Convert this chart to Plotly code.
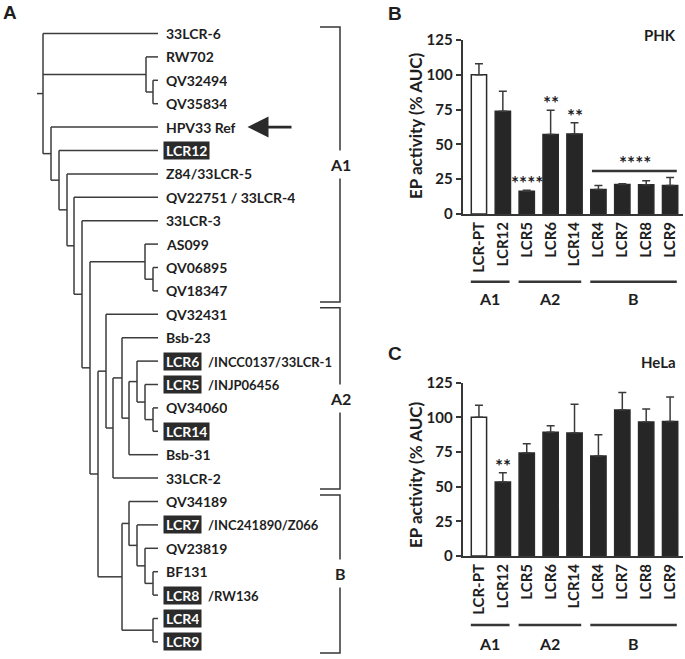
import plotly.graph_objects as go

# ------------------------------------------------------------------
# Panel A data: cladogram (internal node = [depth, child, child, ...])
# ------------------------------------------------------------------
TREE = [0.00,
    "33LCR-6",
    [1.03, "RW702", [1.10, "QV32494", "QV35834"]],
    [0.08, "HPV33 Ref",
        [0.16, "LCR12",
            [0.24, "Z84/33LCR-5",
                [0.31, "QV22751 / 33LCR-4",
                    [0.39, "33LCR-3",
                        [0.47,
                            [1.02, "AS099", [1.10, "QV06895", "QV18347"]],
                            [0.55,
                                [0.63, "QV32431",
                                    [0.70,
                                        [0.79, "Bsb-23",
                                            [0.86,
                                                [0.94, "LCR6", [1.02, "LCR5", [1.10, "QV34060", "LCR14"]]],
                                                "Bsb-31"]],
                                        "33LCR-2"]],
                                [0.79,
                                    [0.86, "QV34189",
                                        [0.94, "LCR7", [1.02, "QV23819", [1.10, "BF131", "LCR8"]]]],
                                    [1.10, "LCR4", "LCR9"]]]]]]]]]]
TIP_DEPTH = 1.15
HIGHLIGHTED = ["LCR12", "LCR6", "LCR5", "LCR14", "LCR7", "LCR8", "LCR4", "LCR9"]
SUFFIXES = {"LCR6": "/INCC0137/33LCR-1", "LCR5": "/INJP06456",
            "LCR7": "/INC241890/Z066", "LCR8": "/RW136"}
REFERENCE_LEAF = "HPV33 Ref"
CLADES = [("A1", "33LCR-6", "QV18347"),
          ("A2", "QV32431", "33LCR-2"),
          ("B", "QV34189", "LCR9")]

# ------------------------------------------------------------------
# Panels B / C data
# ------------------------------------------------------------------
CONSTRUCTS = ["LCR-PT", "LCR12", "LCR5", "LCR6", "LCR14", "LCR4", "LCR7", "LCR8", "LCR9"]
CONTROL = "LCR-PT"
GROUPS = [("A1", ["LCR-PT", "LCR12"]),
          ("A2", ["LCR5", "LCR6", "LCR14"]),
          ("B", ["LCR4", "LCR7", "LCR8", "LCR9"])]
PHK_MEAN = [100, 73.8, 16.4, 57.1, 57.4, 17.6, 21.2, 21.0, 20.5]
PHK_ERR = [7.9, 14.3, 0.6, 17.5, 8.1, 2.9, 0.5, 2.8, 5.7]
HELA_MEAN = [100, 53.4, 74.3, 89.2, 88.7, 72.1, 105.3, 96.6, 97.1]
HELA_ERR = [8.7, 6.6, 6.7, 4.8, 20.7, 15.4, 12.7, 9.4, 17.6]
PHK_SIG = {"LCR5": "****", "LCR6": "**", "LCR14": "**"}
PHK_GROUP_SIG = {"B": "****"}
HELA_SIG = {"LCR12": "**"}
Y_TICKS = [0, 25, 50, 75, 100, 125]

W, H = 685, 659
FONT = "Lato, 'Open Sans', Arial, sans-serif"
INK = "#1e1e1e"
LINE = "#363636"
BAR = "#262626"

fig = go.Figure()
ann = []
shapes = []

# ---------------------------- tree --------------------------------
leaf_order = []
def collect(node):
    if isinstance(node, str):
        leaf_order.append(node)
    else:
        for ch in node[1:]:
            collect(ch)
collect(TREE)
leaf_y = {name: i for i, name in enumerate(leaf_order)}

seg_x, seg_y = [], []
def draw(node):
    if isinstance(node, str):
        return TIP_DEPTH, leaf_y[node]
    d = node[0]
    pos = [draw(ch) for ch in node[1:]]
    ys = [p[1] for p in pos]
    for cx, cy in pos:
        seg_x.extend([d, cx, None]); seg_y.extend([cy, cy, None])
    seg_x.extend([d, d, None]); seg_y.extend([min(ys), max(ys), None])
    return d, (ys[0] + ys[-1]) / 2
rx, ry = draw(TREE)
seg_x.extend([rx - 0.06, rx, None]); seg_y.extend([ry, ry, None])

fig.add_trace(go.Scatter(x=seg_x, y=seg_y, mode="lines",
                         line=dict(color="#3c3c3c", width=1.5),
                         hoverinfo="skip", showlegend=False,
                         xaxis="x", yaxis="y"))

LABEL_X = TIP_DEPTH + 0.05
for name in leaf_order:
    hl = name in HIGHLIGHTED
    ann.append(dict(xref="x", yref="y", x=LABEL_X, y=leaf_y[name], text=name,
                    showarrow=False, xanchor="left", yanchor="middle",
                    bgcolor="#2b2b2b" if hl else "rgba(0,0,0,0)",
                    borderpad=2, height=13,
                    font=dict(family=FONT, size=14, weight="bold",
                              color="white" if hl else INK)))
    if name in SUFFIXES:
        ann.append(dict(xref="x", yref="y", x=LABEL_X + 0.42, y=leaf_y[name],
                        text=SUFFIXES[name], showarrow=False, xanchor="left",
                        yanchor="middle", borderpad=2, height=13,
                        font=dict(family=FONT, size=13, weight="bold", color=INK)))

# arrow pointing at the reference sequence
ann.append(dict(xref="x", yref="y", axref="x", ayref="y",
                x=2.045, y=leaf_y[REFERENCE_LEAF], ax=2.50, ay=leaf_y[REFERENCE_LEAF],
                text="", showarrow=True, arrowhead=2, arrowsize=1.5,
                arrowwidth=2.8, arrowcolor="#2a2a2a"))

# clade brackets
BR_X, BR_TICK = 2.97, 2.77
for label, first, last in CLADES:
    y0 = leaf_y[first] - 0.28
    y1 = leaf_y[last] + 0.47
    fig.add_trace(go.Scatter(x=[BR_TICK, BR_X, BR_X, BR_TICK], y=[y0, y0, y1, y1],
                             mode="lines", line=dict(color=LINE, width=1.5),
                             hoverinfo="skip", showlegend=False,
                             xaxis="x", yaxis="y"))
    ann.append(dict(xref="x", yref="y", x=BR_X, y=(y0 + y1) / 2, text=label,
                    showarrow=False, bgcolor="white", borderpad=4,
                    font=dict(family=FONT, size=16, weight="bold", color=INK)))

# ---------------------------- bars --------------------------------
def bar_panel(means, errs, xa, ya, sig, group_sig, title, y_px_axis, title_y_px, y_line_px, y_lab_px):
    colors = ["white" if c == CONTROL else BAR for c in CONSTRUCTS]
    fig.add_trace(go.Bar(x=CONSTRUCTS, y=means, width=0.64,
                         marker=dict(color=colors, line=dict(color="#2a2a2a", width=1.5)),
                         error_y=dict(type="data", symmetric=False, array=errs,
                                      arrayminus=[0] * len(errs), color="#3a3a3a",
                                      thickness=1.5, width=4),
                         showlegend=False, hoverinfo="skip",
                         xaxis=xa, yaxis=ya))
    xr, yr = xa, ya
    tops = {c: m + e for c, m, e in zip(CONSTRUCTS, means, errs)}
    for c, s in sig.items():
        ann.append(dict(xref=xr, yref=yr, x=CONSTRUCTS.index(c), y=tops[c] + 5.5,
                        text=s, showarrow=False, yanchor="middle",
                        font=dict(family=FONT, size=19, weight="bold", color=INK)))
    for g, members in GROUPS:
        i0 = CONSTRUCTS.index(members[0]); i1 = CONSTRUCTS.index(members[-1])
        shapes.append(dict(type="line", xref=xr, yref="paper",
                           x0=i0 - 0.34, x1=i1 + 0.28,
                           y0=1 - y_line_px / H, y1=1 - y_line_px / H,
                           line=dict(color=LINE, width=2.4)))
        ann.append(dict(xref=xr, yref="paper", x=(i0 + i1) / 2 - 0.04,
                        y=1 - y_lab_px / H, text=g, showarrow=False,
                        yanchor="middle",
                        font=dict(family=FONT, size=16, weight="bold", color=INK)))
        if g in group_sig:
            top = max(tops[m] for m in members)
            shapes.append(dict(type="line", xref=xr, yref=yr,
                               x0=i0 - 0.27, x1=i1 + 0.28, y0=top + 4.7, y1=top + 4.7,
                               line=dict(color=LINE, width=2.4)))
            ann.append(dict(xref=xr, yref=yr, x=(i0 + i1) / 2 + 0.05, y=top + 11,
                            text=group_sig[g], showarrow=False, yanchor="middle",
                            font=dict(family=FONT, size=19, weight="bold", color=INK)))
    ann.append(dict(xref="paper", yref="paper", x=678 / W, y=1 - title_y_px / H,
                    text=title, showarrow=False, xanchor="right", yanchor="middle",
                    font=dict(family=FONT, size=15, weight="bold", color=INK)))
    ann.append(dict(xref="paper", yref="paper", x=415 / W, y=1 - y_px_axis / H,
                    text="EP activity (% AUC)", textangle=-90, showarrow=False,
                    xanchor="center", yanchor="middle",
                    font=dict(family=FONT, size=17, weight="bold", color=INK)))

bar_panel(PHK_MEAN, PHK_ERR, "x2", "y2", PHK_SIG, PHK_GROUP_SIG, "PHK", 126, 35, 281.7, 299)
bar_panel(HELA_MEAN, HELA_ERR, "x3", "y3", HELA_SIG, {}, "HeLa", 475, 362, 625, 643)

# panel letters
for letter, px, py in [("A", 10, 13), ("B", 395, 14), ("C", 395, 353)]:
    ann.append(dict(xref="paper", yref="paper", x=px / W, y=1 - py / H, text=letter,
                    showarrow=False, xanchor="center", yanchor="middle",
                    font=dict(family="Liberation Sans, Arial", size=19, weight="bold", color=INK)))

# axes
def px_dom_x(a, b):
    return [a / W, b / W]
def px_dom_y(top, bottom):
    return [1 - bottom / H, 1 - top / H]

xcat = dict(type="category", range=[-0.68, 8.54], showline=True, linewidth=2,
            linecolor=LINE, ticks="", tickangle=-90, showgrid=False, zeroline=False,
            automargin=False,
            tickfont=dict(family=FONT, size=15, weight="bold", color=INK), fixedrange=True)
ynum = dict(range=[0, 125], tickvals=Y_TICKS, ticks="outside", ticklen=5, tickwidth=2,
            tickcolor=LINE, showline=True, linewidth=2, linecolor=LINE, showgrid=False,
            automargin=False,
            zeroline=False, tickfont=dict(family=FONT, size=15, weight="bold", color=INK))

fig.update_layout(
    width=W, height=H, margin=dict(l=0, r=0, t=0, b=0, pad=0, autoexpand=False),
    autosize=False,
    paper_bgcolor="white", plot_bgcolor="white", showlegend=False,
    xaxis=dict(domain=px_dom_x(0, 400), range=[-0.43, 3.57], visible=False, automargin=False),
    yaxis=dict(domain=[0, 1], range=[(H - 33.5) / 23.4, -33.5 / 23.4], visible=False, automargin=False),
    xaxis2=dict(domain=px_dom_x(462.7, 683), anchor="y2", **xcat),
    yaxis2=dict(domain=px_dom_y(40, 214), anchor="x2", **ynum),
    xaxis3=dict(domain=px_dom_x(462.7, 683), anchor="y3", **xcat),
    yaxis3=dict(domain=px_dom_y(382.7, 556), anchor="x3", **ynum),
    annotations=ann, shapes=shapes, bargap=0.3,
)

fig.write_html("out.html", config={"responsive": False, "displayModeBar": False},
               post_script="document.body.style.margin='0';document.body.style.padding='0';"
                           "document.body.style.overflow='hidden';"
                           "document.documentElement.style.overflow='hidden';")
